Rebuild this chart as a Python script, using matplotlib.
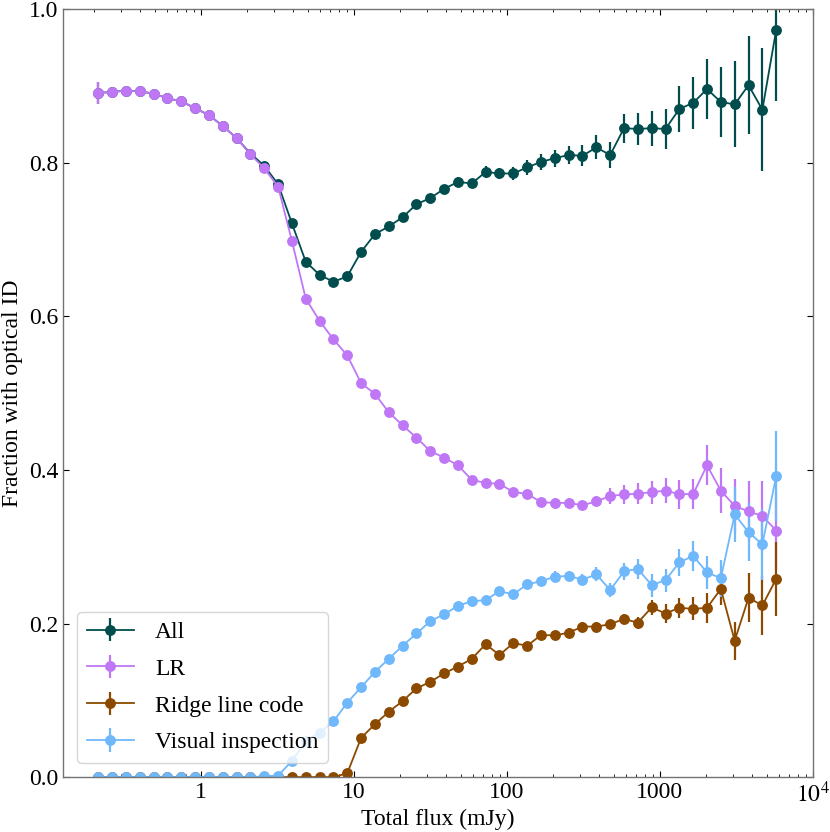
import numpy as np
import matplotlib
matplotlib.use("Agg")
import matplotlib.pyplot as plt

plt.rcParams["font.family"] = "serif"
plt.rcParams["font.serif"] = ["Liberation Serif", "DejaVu Serif"]
plt.rcParams["mathtext.fontset"] = "stix"

# bin centres (mJy)
flux = [0.2138, 0.2633, 0.3241, 0.3993, 0.4916, 0.6053, 0.7455, 0.9180, 1.1303, 1.3918,
        1.714, 2.110, 2.599, 3.200, 3.941, 4.853, 5.976, 7.359, 9.062, 11.16,
        13.74, 16.92, 20.84, 25.66, 31.60, 38.90, 47.91, 58.99, 72.64, 89.46,
        110.2, 135.7, 167.1, 205.7, 253.3, 311.9, 384.1, 473.0, 582.5, 717.3,
        883.1, 1087.5, 1339, 1649, 2031, 2500, 3079, 3792, 4669, 5750]

frac_all = [0.891, 0.892, 0.894, 0.893, 0.890, 0.884, 0.880, 0.871, 0.862, 0.848,
            0.832, 0.812, 0.796, 0.772, 0.721, 0.671, 0.654, 0.645, 0.652, 0.684,
            0.707, 0.717, 0.729, 0.746, 0.754, 0.766, 0.775, 0.773, 0.788, 0.786,
            0.786, 0.794, 0.801, 0.806, 0.810, 0.809, 0.820, 0.810, 0.845, 0.844,
            0.845, 0.844, 0.870, 0.878, 0.896, 0.879, 0.876, 0.901, 0.869, 0.973]
err_all = [0.014, 0.006, 0.004, 0.003, 0.003, 0.003, 0.003, 0.003, 0.003, 0.003,
           0.003, 0.003, 0.003, 0.003, 0.003, 0.003, 0.003, 0.003, 0.004, 0.004,
           0.004, 0.004, 0.005, 0.005, 0.005, 0.005, 0.006, 0.006, 0.008, 0.007,
           0.008, 0.0095, 0.011, 0.011, 0.012, 0.0135, 0.0155, 0.0175, 0.019, 0.021,
           0.023, 0.026, 0.030, 0.034, 0.039, 0.046, 0.056, 0.064, 0.080, 0.093]

frac_lr = [0.891, 0.892, 0.894, 0.893, 0.890, 0.884, 0.880, 0.871, 0.862, 0.848,
           0.832, 0.811, 0.7925, 0.769, 0.698, 0.623, 0.594, 0.570, 0.549, 0.513,
           0.499, 0.475, 0.458, 0.442, 0.4245, 0.416, 0.406, 0.387, 0.383, 0.382,
           0.371, 0.369, 0.358, 0.357, 0.357, 0.354, 0.359, 0.366, 0.368, 0.369,
           0.371, 0.373, 0.3685, 0.3685, 0.406, 0.373, 0.353, 0.346, 0.340, 0.321]
err_lr = [0.014, 0.005, 0.003, 0.003, 0.003, 0.003, 0.003, 0.003, 0.003, 0.003,
          0.003, 0.003, 0.003, 0.003, 0.003, 0.003, 0.003, 0.003, 0.003, 0.003,
          0.003, 0.003, 0.004, 0.004, 0.004, 0.004, 0.004, 0.004, 0.005, 0.005,
          0.005, 0.005, 0.006, 0.006, 0.006, 0.006, 0.0065, 0.011, 0.012, 0.0135,
          0.015, 0.016, 0.019, 0.0195, 0.026, 0.029, 0.035, 0.039, 0.046, 0.050]

frac_ridge = [0.0, 0.0, 0.0, 0.0, 0.0, 0.0, 0.0, 0.0, 0.0, 0.0,
              0.0, 0.0, 0.0, 0.0, 0.0, 0.0, 0.0, 0.0, 0.005, 0.051,
              0.069, 0.085, 0.099, 0.1155, 0.124, 0.135, 0.144, 0.154, 0.173, 0.159,
              0.1745, 0.171, 0.185, 0.1845, 0.188, 0.196, 0.196, 0.199, 0.206, 0.201,
              0.221, 0.213, 0.2205, 0.219, 0.2205, 0.245, 0.1775, 0.2335, 0.2235, 0.258]
err_ridge = [0.0, 0.0, 0.0, 0.0, 0.0, 0.0, 0.0, 0.0, 0.0, 0.0,
             0.0, 0.0, 0.0, 0.0, 0.0, 0.0, 0.0, 0.0, 0.001, 0.003,
             0.003, 0.003, 0.003, 0.004, 0.004, 0.004, 0.004, 0.005, 0.005, 0.005,
             0.005, 0.005, 0.005, 0.006, 0.006, 0.006, 0.006, 0.006, 0.0065, 0.008,
             0.0095, 0.012, 0.013, 0.015, 0.0195, 0.021, 0.025, 0.032, 0.039, 0.048]

frac_visual = [0.0, 0.0, 0.0, 0.0, 0.0, 0.0, 0.0, 0.0, 0.0, 0.0,
               0.0, 0.0, 0.001, 0.002, 0.021, 0.047, 0.058, 0.0725, 0.097, 0.117,
               0.137, 0.154, 0.171, 0.187, 0.203, 0.212, 0.223, 0.229, 0.2305, 0.242,
               0.238, 0.251, 0.255, 0.261, 0.262, 0.257, 0.264, 0.2435, 0.268, 0.271,
               0.250, 0.2565, 0.2795, 0.288, 0.2665, 0.259, 0.342, 0.319, 0.303, 0.392]
err_visual = [0.0, 0.0, 0.0, 0.0, 0.0, 0.0, 0.0, 0.0, 0.0, 0.0,
              0.0, 0.0, 0.001, 0.001, 0.002, 0.003, 0.003, 0.003, 0.004, 0.004,
              0.004, 0.004, 0.004, 0.005, 0.005, 0.005, 0.005, 0.005, 0.005, 0.006,
              0.006, 0.006, 0.006, 0.007, 0.007, 0.007, 0.009, 0.0095, 0.011, 0.013,
              0.015, 0.015, 0.017, 0.019, 0.022, 0.024, 0.036, 0.038, 0.046, 0.059]

series = [
    ("All", frac_all, err_all, "#014d4e"),
    ("LR", frac_lr, err_lr, "#bf77f6"),
    ("Ridge line code", frac_ridge, err_ridge, "#8c4a00"),
    ("Visual inspection", frac_visual, err_visual, "#6fb8fb"),
]

fig = plt.figure(figsize=(8.3, 8.32), dpi=100)
ax = fig.add_axes([0.076, 0.066, 0.9035, 0.923])

for label, y, yerr, color in series:
    ax.errorbar(flux, y, yerr=yerr, color=color, marker="o", markersize=6.8,
                linewidth=1.3, elinewidth=1.6, capsize=0, label=label)

ax.set_xscale("log")
ax.set_xlim(0.126, 1e4)
ax.set_ylim(0, 1)
ax.set_xticks([1, 10, 100, 1000, 10000])
ax.set_xticklabels(["1", "10", "100", "1000", r"$10^4$"])
ax.set_yticks([0.0, 0.2, 0.4, 0.6, 0.8, 1.0])
ax.set_yticklabels(["0.0", "0.2", "0.4", "0.6", "0.8", "1.0"])
ax.tick_params(which="both", direction="in", top=True, right=True, labelsize=17)
ax.tick_params(which="major", length=4)
ax.tick_params(which="minor", length=2)
for sp in ax.spines.values():
    sp.set_color("0.45")
    sp.set_linewidth(1.0)

ax.set_xlabel("Total flux (mJy)", fontsize=17, labelpad=1)
ax.set_ylabel("Fraction with optical ID", fontsize=17, labelpad=4)
ax.legend(loc="lower left", fontsize=17, framealpha=0.8, borderaxespad=0.6,
          handletextpad=0.9, labelspacing=0.65)

fig.savefig("out.png", dpi=100)
